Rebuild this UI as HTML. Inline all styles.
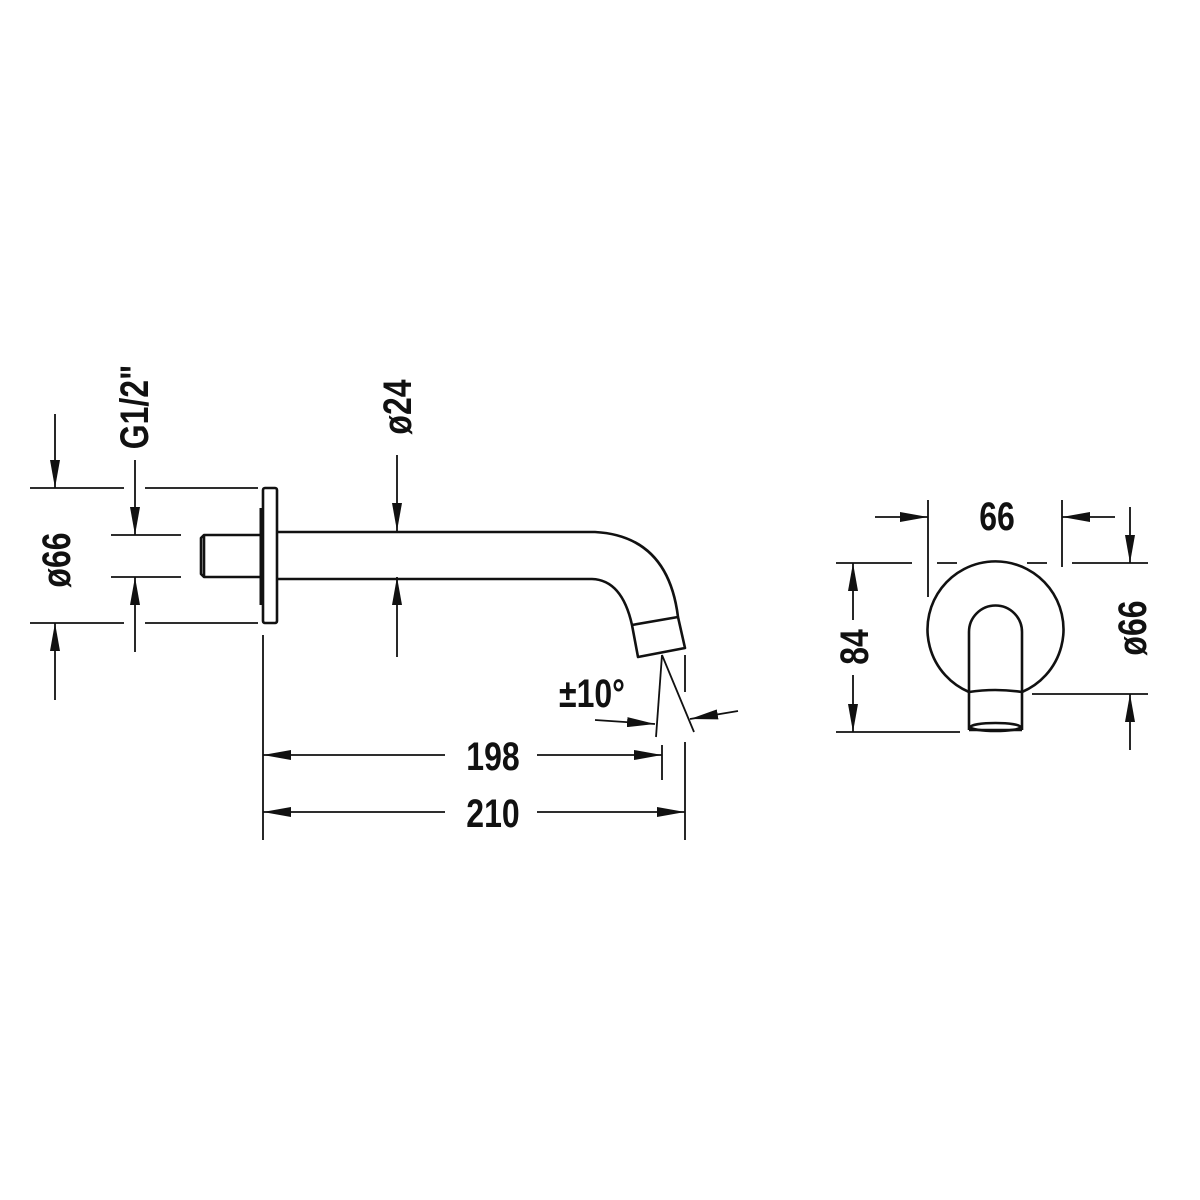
<!DOCTYPE html>
<html><head><style>html,body{margin:0;padding:0;background:#fff}svg{display:block}
text{font-family:"Liberation Sans",sans-serif;font-weight:bold;font-size:40px;fill:#111}</style></head>
<body>
<svg width="1200" height="1200" viewBox="0 0 1200 1200" xmlns="http://www.w3.org/2000/svg">
<defs>
<marker id="a" viewBox="0 0 28 10" refX="28" refY="5" markerWidth="28" markerHeight="10" markerUnits="userSpaceOnUse" orient="auto"><path d="M0,0 L28,5 L0,10 Z" fill="#111"/></marker>
</defs>
<g stroke="#111" stroke-width="1.8" fill="none">
<line x1="30" y1="488" x2="124" y2="488"/><line x1="145" y1="488" x2="258" y2="488"/>
<line x1="30" y1="623" x2="124" y2="623"/><line x1="145" y1="623" x2="258" y2="623"/>
<line x1="111" y1="535" x2="181" y2="535"/><line x1="111" y1="577" x2="181" y2="577"/>
<line x1="55" y1="414" x2="55" y2="488" marker-end="url(#a)"/>
<line x1="55" y1="700" x2="55" y2="623" marker-end="url(#a)"/>
<line x1="135" y1="460" x2="135" y2="535" marker-end="url(#a)"/>
<line x1="135" y1="652" x2="135" y2="577" marker-end="url(#a)"/>
<line x1="263" y1="635" x2="263" y2="840"/>
<line x1="397" y1="455" x2="397" y2="531" marker-end="url(#a)"/>
<line x1="397" y1="657" x2="397" y2="577" marker-end="url(#a)"/>
<line x1="445" y1="755" x2="263" y2="755" marker-end="url(#a)"/>
<line x1="537" y1="755" x2="662" y2="755" marker-end="url(#a)"/>
<line x1="445" y1="812" x2="263" y2="812" marker-end="url(#a)"/>
<line x1="537" y1="812" x2="685" y2="812" marker-end="url(#a)"/>
<line x1="662" y1="745" x2="662" y2="780"/>
<line x1="685" y1="655" x2="685" y2="692"/>
<line x1="685" y1="742" x2="685" y2="840"/>
<line x1="662" y1="655" x2="656" y2="737"/>
<line x1="662" y1="655" x2="694" y2="732"/>
<line x1="595" y1="720" x2="655" y2="724" marker-end="url(#a)"/>
<line x1="738" y1="711" x2="690" y2="719" marker-end="url(#a)"/>
</g>
<g stroke="#111" stroke-width="2.6" fill="none" stroke-linejoin="round">
<rect x="263" y="488" width="14" height="135" rx="2"/>
<line x1="261" y1="508" x2="261" y2="605" stroke-width="3"/>
<path d="M261,535 L204,535 L201,538 L201,574 L204,577 L261,577"/>
<line x1="204" y1="536" x2="204" y2="576"/>
<path d="M277,532 L595,532 Q668,536 678,617 L685,648 L638,657 L632,625 Q622,580 592,579 L277,579"/>
<line x1="632" y1="625" x2="678" y2="617"/>
</g>
<g stroke="#111" stroke-width="1.8" fill="none">
<line x1="928" y1="500" x2="928" y2="597"/><line x1="1062" y1="500" x2="1062" y2="567"/>
<line x1="875" y1="517" x2="928" y2="517" marker-end="url(#a)"/>
<line x1="1115" y1="517" x2="1062" y2="517" marker-end="url(#a)"/>
<line x1="836" y1="563" x2="912" y2="563"/><line x1="937" y1="563" x2="957" y2="563"/>
<line x1="1027" y1="563" x2="1047" y2="563"/><line x1="1072" y1="563" x2="1148" y2="563"/>
<line x1="1130" y1="507" x2="1130" y2="563" marker-end="url(#a)"/>
<line x1="1032" y1="694" x2="1148" y2="694"/>
<line x1="1130" y1="750" x2="1130" y2="694" marker-end="url(#a)"/>
<line x1="836" y1="732" x2="960" y2="732"/>
<line x1="853" y1="620" x2="853" y2="563" marker-end="url(#a)"/>
<line x1="853" y1="675" x2="853" y2="732" marker-end="url(#a)"/>
</g>
<g stroke="#111" stroke-width="2.6" fill="none">
<path d="M969,692 A68,68 0 1 1 1022,692"/>
<path d="M969,730 L969,632 A26.5,26.5 0 0 1 1022,632 L1022,730"/>
<path d="M969,692 Q995,688 1022,692"/>
<ellipse cx="995.5" cy="727" rx="25" ry="4"/>
<line x1="969" y1="730" x2="1022" y2="730"/>
</g>
<g>
<text transform="translate(70,560) rotate(-90) scale(0.8,1)" text-anchor="middle">ø66</text>
<text transform="translate(148,407) rotate(-90) scale(0.8,1)" text-anchor="middle">G1/2"</text>
<text transform="translate(411,407) rotate(-90) scale(0.8,1)" text-anchor="middle">ø24</text>
<text transform="translate(493,770) scale(0.8,1)" text-anchor="middle">198</text>
<text transform="translate(493,827) scale(0.8,1)" text-anchor="middle">210</text>
<text transform="translate(592,707) scale(0.8,1)" text-anchor="middle">±10°</text>
<text transform="translate(997,530) scale(0.8,1)" text-anchor="middle">66</text>
<text transform="translate(868,647) rotate(-90) scale(0.8,1)" text-anchor="middle">84</text>
<text transform="translate(1146,628) rotate(-90) scale(0.8,1)" text-anchor="middle">ø66</text>
</g>
</svg>
</body></html>
